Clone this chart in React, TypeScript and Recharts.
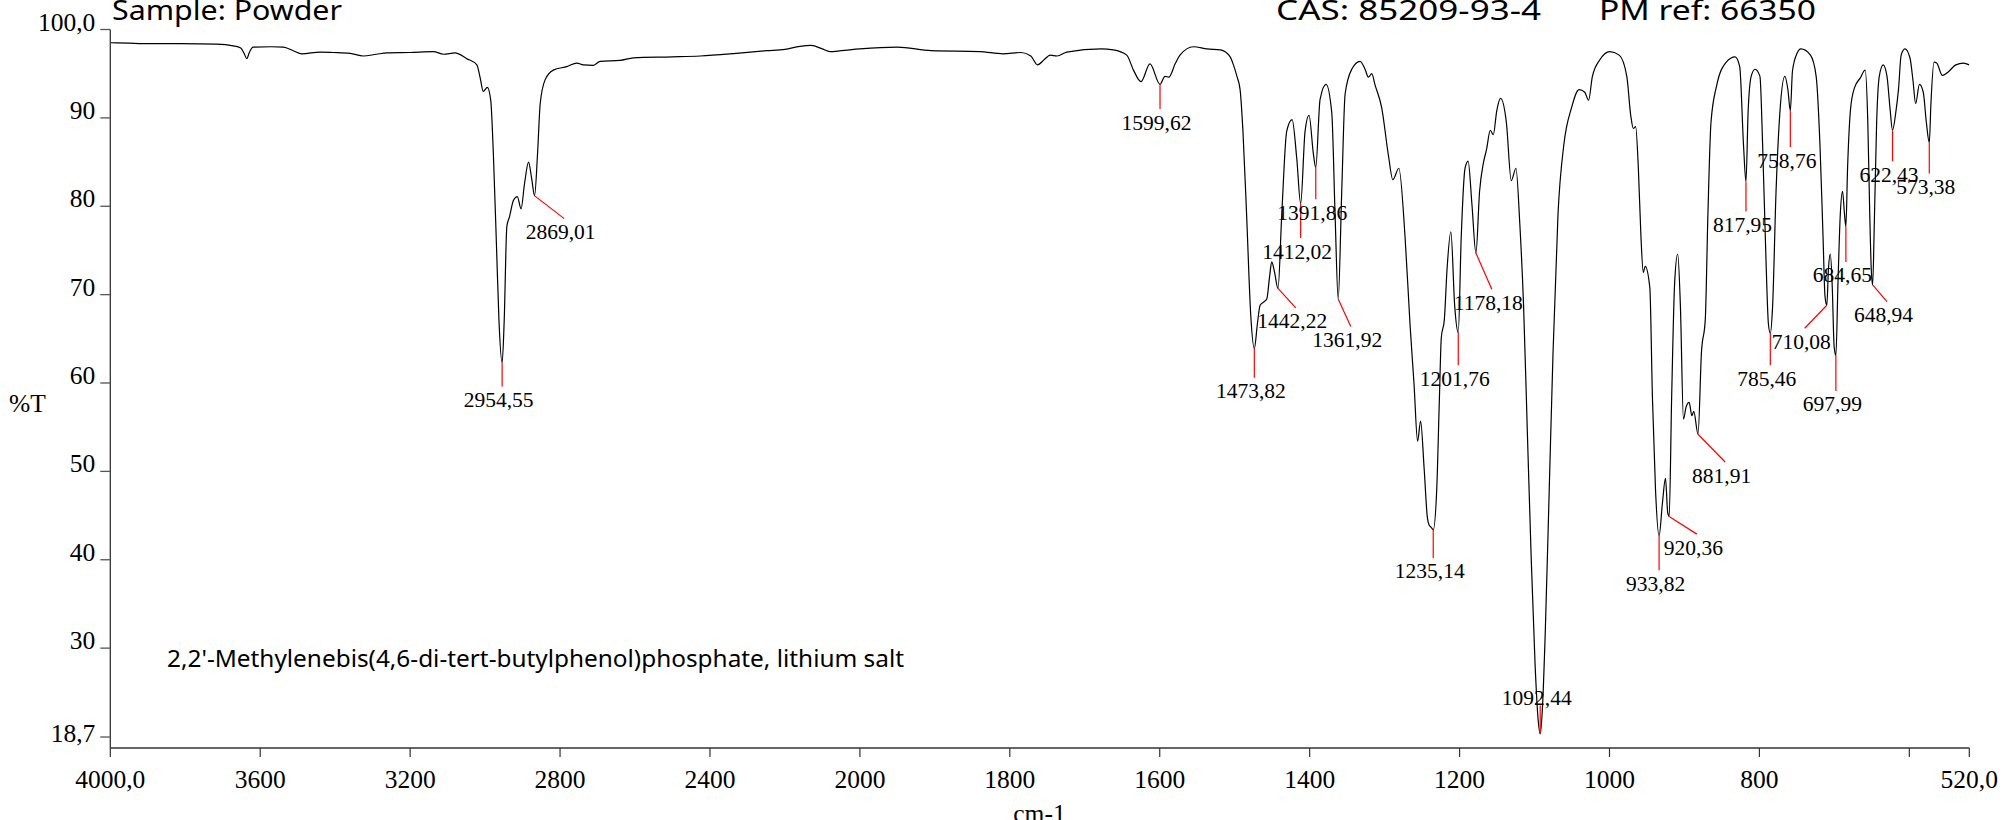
import React from 'react';
import { LineChart, Line, XAxis, YAxis, ReferenceLine, ReferenceDot } from 'recharts';

// ---- spectrum (wavenumber cm-1, %T) ----
const WAVENUMBERS = [
  4000, 3950, 3912, 3814, 3716, 3672, 3652, 3643, 3636, 3629, 3619, 3570, 3538, 3512, 3489, 3440, 3405, 3360, 3325, 3290,
  3262, 3200, 3138, 3111, 3080, 3049, 3022, 3013, 3005, 2994, 2985, 2978, 2969, 2963, 2954.55, 2949, 2942, 2935, 2924, 2914,
  2904, 2895, 2884, 2876, 2868, 2860, 2853, 2840, 2818, 2782, 2755, 2738, 2711, 2693, 2640, 2604, 2500, 2426, 2330, 2249,
  2200, 2160, 2130, 2100, 2080, 2050, 2000, 1950, 1905, 1840, 1809, 1785, 1772, 1763, 1754, 1746, 1737, 1724, 1678, 1662,
  1644, 1635, 1625, 1613, 1599.62, 1593, 1588, 1579, 1573, 1555, 1537, 1519, 1506, 1501.7, 1497, 1492.8, 1489, 1484, 1478.6, 1473.82,
  1469.7, 1466.1, 1460.8, 1457.2, 1453.5, 1450.6, 1447, 1442.22, 1437.2, 1430.6, 1423.4, 1417.2, 1412.02, 1406.1, 1400.8, 1395, 1391.86, 1386.1, 1378.1, 1370.5,
  1366.1, 1361.92, 1357.2, 1352.7, 1343.9, 1332.7, 1326.1, 1321.6, 1317.2, 1312.7, 1303.8, 1295, 1289, 1281, 1272.7, 1266, 1260.7, 1256, 1252, 1247.4,
  1243, 1240.5, 1238.2, 1235.14, 1230.5, 1226.9, 1224.4, 1220.3, 1216.7, 1211.6, 1206.5, 1201.76, 1197.8, 1192.7, 1188.6, 1183.5, 1178.18, 1173.3, 1168.2, 1164.1,
  1159, 1155, 1150.4, 1145.3, 1137.6, 1131, 1124.8, 1119.7, 1114.6, 1109.5, 1104.4, 1099.3, 1095.2, 1092.44, 1089.6, 1085.5, 1080.4, 1075.3, 1068.7, 1061,
  1050.8, 1040.6, 1033, 1027.9, 1022.8, 1012.6, 999.8, 987, 976.9, 971.7, 968.2, 965.1, 961.5, 958, 954.9, 952.4, 946.2, 942.7, 938.6, 933.82,
  929.4, 925.3, 922.3, 920.36, 917.1, 913.1, 909, 905.4, 901.3, 897.8, 893.7, 890.1, 887.6, 881.91, 877.3, 872.2, 868.7, 864.6, 856.9, 844.2,
  832.4, 826.3, 821.2, 817.95, 815.1, 811, 805.9, 799.3, 795.7, 791.6, 788, 785.46, 782.4, 777.8, 772.7, 766.1, 762, 758.76, 755.9, 749.8,
  744.7, 731.9, 724.3, 719.2, 715.1, 712.5, 710.08, 707.9, 705.4, 702.8, 700.3, 697.99, 695.2, 692.1, 689.1, 686.5, 684.65, 682.4, 678.3, 673.2,
  665.6, 658.9, 655.4, 652.8, 650.8, 648.94, 646.7, 643.6, 640.1, 634.9, 629.8, 625.8, 622.43, 618.1, 614.5, 610.9, 605.9, 599.2, 595.1, 591.6,
  586.5, 581.4, 577.3, 573.38, 571.2, 567.1, 563.5, 555.9, 548.2, 538, 527.8, 520,
];
const TRANSMITTANCE = [
  98.5, 98.45, 98.4, 98.4, 98.35, 98.15, 97.9, 97.3, 96.7, 97.4, 98.0, 98.05, 98.0, 97.6, 97.25, 97.45, 97.4, 97.3, 97.0, 97.2,
  97.35, 97.4, 97.5, 97.2, 97.35, 96.7, 96.0, 94.5, 93.0, 93.45, 92.0, 86.0, 74.7, 67.1, 62.3, 67.1, 77.7, 78.8, 80.7, 81.1,
  79.7, 82.5, 85.0, 83.2, 81.2, 86.0, 91.6, 94.3, 95.4, 95.8, 96.2, 96.0, 95.95, 96.4, 96.5, 96.8, 96.9, 97.0, 97.3, 97.6,
  97.75, 98.1, 98.2, 97.8, 97.5, 97.6, 97.8, 98.0, 97.6, 97.5, 97.25, 97.4, 97.0, 96.0, 96.6, 97.1, 97.0, 97.45, 97.8, 97.7,
  97.1, 95.4, 94.1, 96.1, 93.8, 94.7, 94.6, 96.2, 97.1, 98.05, 97.8, 97.7, 96.9, 96.0, 94.7, 93.2, 88.5, 78.8, 67.7, 63.9,
  66.7, 68.8, 69.2, 69.5, 72.0, 73.7, 72.6, 70.7, 79.1, 88.5, 89.8, 85.4, 80.3, 88.5, 90.3, 85.9, 84.4, 92.1, 93.8, 90.6,
  79.1, 69.5, 81.7, 92.7, 95.5, 96.4, 95.5, 94.6, 95.0, 93.7, 91.1, 85.8, 83.0, 84.3, 76.5, 66.5, 59.8, 53.4, 55.7, 50.5,
  44.8, 43.9, 43.7, 43.4, 47.9, 58.3, 65.1, 67.2, 72.9, 77.1, 68.7, 65.7, 76.5, 84.3, 85.1, 80.2, 74.7, 81.7, 84.9, 86.4,
  88.6, 88.1, 90.8, 92.2, 89.5, 82.9, 84.3, 78.1, 68.7, 54.2, 40.1, 28.2, 21.9, 20.3, 23.0, 32.3, 47.9, 63.5, 79.1, 86.9,
  91.1, 93.2, 92.9, 92.0, 94.7, 96.6, 97.5, 97.1, 94.7, 90.3, 88.8, 89.0, 84.3, 76.5, 72.5, 73.2, 70.8, 58.3, 47.9, 42.7,
  46.4, 49.2, 45.3, 44.9, 58.3, 71.3, 74.6, 68.7, 55.9, 57.3, 57.8, 56.3, 56.8, 54.2, 63.5, 67.2, 79.1, 89.5, 93.7, 96.3,
  96.9, 95.8, 86.9, 82.8, 90.6, 94.7, 95.5, 94.7, 86.9, 75.0, 66.7, 65.6, 68.7, 81.7, 90.6, 94.7, 93.2, 90.8, 95.3, 97.3,
  97.8, 97.1, 94.7, 86.9, 76.5, 69.8, 68.8, 72.9, 74.6, 70.8, 64.1, 63.1, 71.3, 79.1, 81.7, 79.1, 77.7, 84.3, 91.1, 93.4,
  94.5, 95.4, 89.5, 79.1, 72.9, 71.1, 78.1, 89.5, 94.7, 96.0, 94.7, 91.1, 88.6, 90.6, 93.2, 97.1, 97.8, 96.8, 94.2, 91.6,
  93.8, 92.9, 89.5, 87.2, 91.6, 96.3, 96.2, 94.8, 95.2, 96.0, 96.2, 96.0,
];

// ---- axes ----
const X_TICK_WN = [4000, 3600, 3200, 2800, 2400, 2000, 1800, 1600, 1400, 1200, 1000, 800, 600, 520];
const X_TICK_LABELS = ['4000,0', '3600', '3200', '2800', '2400', '2000', '1800', '1600', '1400', '1200', '1000', '800', '', '520,0'];
const Y_TICKS = [18.7, 30, 40, 50, 60, 70, 80, 90, 100];
const Y_TICK_LABELS = ['18,7', '30', '40', '50', '60', '70', '80', '90', '100,0'];

// ---- peak annotations ----
const PEAK_LABELS = ['2954,55', '2869,01', '1599,62', '1473,82', '1442,22', '1412,02', '1391,86', '1361,92', '1235,14', '1201,76',
  '1178,18', '1092,44', '933,82', '920,36', '881,91', '817,95', '785,46', '758,76', '710,08', '697,99', '684,65', '648,94', '622,43', '573,38'];
const PEAK_WN = [2954.55, 2868.5, 1599.62, 1473.82, 1442.22, 1412.02, 1391.86, 1361.92, 1235.14, 1201.76,
  1178.18, 1092.44, 933.82, 920.36, 881.91, 817.95, 785.46, 758.76, 710.08, 697.99, 684.65, 648.94, 622.43, 573.38];
const PEAK_T = [62.3, 81.2, 93.8, 63.9, 70.7, 80.3, 84.4, 69.5, 43.4, 65.7,
  74.7, 20.3, 42.7, 44.9, 54.2, 82.8, 65.6, 90.8, 68.8, 63.1, 77.7, 71.1, 88.6, 87.2];
const LEADER_END_WN = [2954.55, 2789, 1599.62, 1473.82, 1418.5, 1412.02, 1391.86, 1345.2, 1235.14, 1201.76,
  1157, 1092.44, 933.82, 883.5, 845.7, 817.95, 785.46, 758.76, 739.6, 697.99, 684.65, 629.8, 622.43, 573.38];
const LEADER_END_T = [59.6, 78.6, 91.0, 60.6, 68.5, 76.4, 80.8, 66.4, 40.2, 62.0,
  70.6, 23.5, 38.8, 42.9, 51.06, 79.4, 62.0, 86.7, 66.2, 59.1, 73.7, 69.2, 85.1, 83.7];
const LABEL_ABOVE = ['1092,44'];

// x axis has a scale change at 2000 cm-1 (region below 2000 is expanded 2x)
const toU = (wn: number) => (wn >= 2000 ? (4000 - wn) / 2 : 1000 + (2000 - wn));
const X_TICK_U = X_TICK_WN.map(toU);

const data = WAVENUMBERS.map((w, i) => ({ u: toU(w), t: TRANSMITTANCE[i] }));

const SERIF = '"Liberation Serif", "Times New Roman", serif';
const SANS = '"Noto Sans", "DejaVu Sans", sans-serif';

const XTick = (props: any) => {
  const { x, y, payload } = props;
  const idx = X_TICK_U.indexOf(payload.value);
  const label = idx >= 0 ? X_TICK_LABELS[idx] : '';
  return (
    <text x={x} y={y + 31} textAnchor="middle" fontFamily={SERIF} fontSize={25.5} fill="#000">
      {label}
    </text>
  );
};

const YTick = (props: any) => {
  const { x, y, payload } = props;
  const idx = Y_TICKS.indexOf(payload.value);
  const label = idx >= 0 ? Y_TICK_LABELS[idx] : '';
  const isBottom = payload.value === 18.7;
  const tickY = isBottom ? y - 11 : y;
  const textY = isBottom ? y - 6 : y + 1;
  return (
    <g>
      <line x1={x + 5} x2={x + 15} y1={tickY} y2={tickY} stroke="#555" strokeWidth={1.3} />
      <text x={x} y={textY} textAnchor="end" fontFamily={SERIF} fontSize={25.5} fill="#000">
        {label}
      </text>
    </g>
  );
};

export default function App() {
  return (
    <div style={{ position: 'absolute', left: 0, top: 0, width: 2003, height: 820, background: '#fff' }}>
      <LineChart
        width={2003}
        height={820}
        data={data}
        margin={{ top: 29.5, right: 33.7, bottom: 12, left: 10 }}
      >
        <XAxis
          dataKey="u"
          type="number"
          domain={[0, 2480]}
          ticks={X_TICK_U}
          interval={0}
          height={60}
          tickSize={9}
          tickMargin={0}
          tick={XTick}
          axisLine={{ stroke: '#333', strokeWidth: 1.3 }}
          tickLine={{ stroke: '#333', strokeWidth: 1.2 }}
          allowDataOverflow
        />
        <YAxis
          type="number"
          domain={[18.7, 100]}
          ticks={Y_TICKS}
          interval={0}
          width={100.3}
          tickSize={10}
          tickMargin={5}
          tickLine={false}
          tick={YTick}
          axisLine={{ stroke: '#333', strokeWidth: 1.3 }}
          allowDataOverflow
        />
        <Line
          dataKey="t"
          type="monotone"
          stroke="#000"
          strokeWidth={1.2}
          dot={false}
          activeDot={false}
          isAnimationActive={false}
        />
        {PEAK_LABELS.map((lab, i) => (
          <ReferenceLine
            key={'l' + i}
            segment={[
              { x: toU(PEAK_WN[i]), y: PEAK_T[i] },
              { x: toU(LEADER_END_WN[i]), y: LEADER_END_T[i] },
            ]}
            stroke="#ff0000"
            strokeWidth={1.2}
            ifOverflow="visible"
          />
        ))}
        {PEAK_LABELS.map((lab, i) => {
          const above = LABEL_ABOVE.includes(lab);
          return (
            <ReferenceDot
              key={'d' + i}
              x={toU(LEADER_END_WN[i])}
              y={LEADER_END_T[i]}
              r={2}
              ifOverflow="visible"
              shape={(p: any) => (
                <text
                  x={p.cx - 3.5}
                  y={above ? p.cy - 1 : p.cy + 20.5}
                  textAnchor="middle"
                  fontFamily={SERIF}
                  fontSize={21.5}
                  fill="#000"
                >
                  {lab}
                </text>
              )}
            />
          );
        })}
      </LineChart>
      <svg
        width={2003}
        height={820}
        style={{ position: 'absolute', left: 0, top: 0, pointerEvents: 'none' }}
      >
        <text x={112} y={20} fontFamily={SANS} fontSize={27} textLength={230} lengthAdjust="spacingAndGlyphs" fill="#000">
          Sample: Powder
        </text>
        <text x={1276} y={20} fontFamily={SANS} fontSize={27} textLength={265} lengthAdjust="spacingAndGlyphs" fill="#000">
          CAS: 85209-93-4
        </text>
        <text x={1599} y={20} fontFamily={SANS} fontSize={27} textLength={217} lengthAdjust="spacingAndGlyphs" fill="#000">
          PM ref: 66350
        </text>
        <text x={167} y={667} fontFamily={SANS} fontSize={23} textLength={737} lengthAdjust="spacingAndGlyphs" fill="#000">
          2,2'-Methylenebis(4,6-di-tert-butylphenol)phosphate, lithium salt
        </text>
        <text x={9} y={412} fontFamily={SERIF} fontSize={25.5} fill="#000">
          %T
        </text>
        <text x={1039.5} y={822} textAnchor="middle" fontFamily={SERIF} fontSize={25.5} fill="#000">
          cm-1
        </text>
      </svg>
    </div>
  );
}
